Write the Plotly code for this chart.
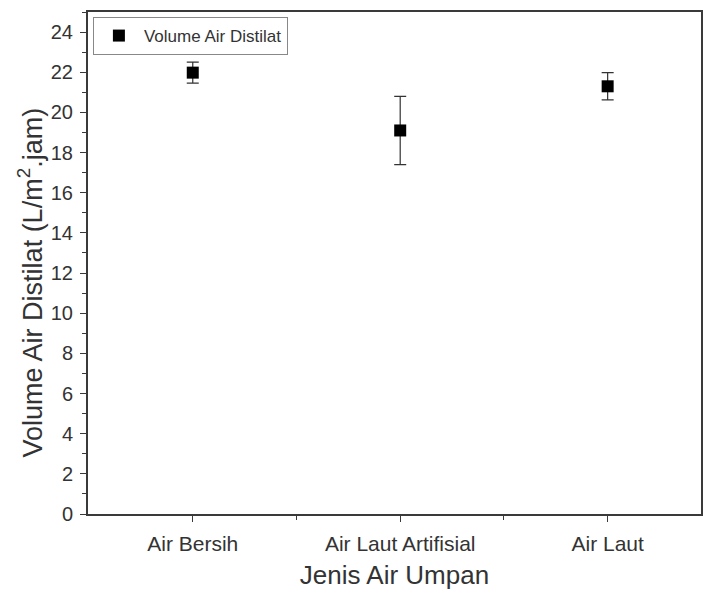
import plotly.graph_objects as go

categories = ["Air Bersih", "Air Laut Artifisial", "Air Laut"]
volume = [21.98, 19.1, 21.3]
error = [0.52, 1.7, 0.68]
y_ticks = [0, 2, 4, 6, 8, 10, 12, 14, 16, 18, 20, 22, 24]
y_title = "Volume Air Distilat (L/m<sup>2</sup>.jam)"
x_title = "Jenis Air Umpan"

x_idx = list(range(len(categories)))
FONT = "Liberation Sans, Arial, sans-serif"
AXC = "#3a3a3a"
TXT = "#333333"

fig = go.Figure()
fig.add_trace(go.Scatter(
    x=x_idx, y=volume, mode="markers", name="Volume Air Distilat",
    marker=dict(symbol="square", size=12, color="black"),
    error_y=dict(type="data", array=error, visible=True, color="#333333",
                 thickness=1.2, width=6),
))

fig.add_annotation(
    text=y_title, textangle=-90, xref="paper", yref="paper",
    x=-0.094, y=0.462, xanchor="center", yanchor="middle", showarrow=False,
    font=dict(size=27, family=FONT, color=TXT),
)

fig.update_layout(
    width=703, height=593,
    margin=dict(l=88, r=0, t=12, b=79),
    paper_bgcolor="white", plot_bgcolor="white",
    font=dict(family=FONT, color=TXT),
    showlegend=True,
    legend=dict(x=0.008, y=0.99, xanchor="left", yanchor="top",
                bordercolor="#888888", borderwidth=1, bgcolor="white",
                font=dict(size=17, family=FONT, color=TXT),
                itemwidth=40, tracegroupgap=0),
    xaxis=dict(
        range=[-0.505, 2.45], tickvals=x_idx, ticktext=categories,
        showline=True, linecolor=AXC, linewidth=2, mirror=True,
        ticks="outside", ticklen=6, tickcolor=AXC, tickwidth=1,
        ticklabelstandoff=4,
        minor=dict(tickvals=[0.5, 1.5], ticks="outside", ticklen=4, tickcolor=AXC),
        showgrid=False, zeroline=False,
        tickfont=dict(size=21, family=FONT, color=TXT),
        title=dict(text=x_title, font=dict(size=26, family=FONT, color=TXT), standoff=12),
    ),
    yaxis=dict(
        range=[0, 25], tickvals=y_ticks,
        showline=True, linecolor=AXC, linewidth=2, mirror=True,
        ticks="outside", ticklen=6, tickcolor=AXC, tickwidth=1,
        ticklabelstandoff=3,
        minor=dict(dtick=1, tick0=0, ticks="outside", ticklen=4, tickcolor=AXC),
        showgrid=False, zeroline=False,
        tickfont=dict(size=20, family=FONT, color=TXT),
    ),
)

fig.write_html("out.html")
